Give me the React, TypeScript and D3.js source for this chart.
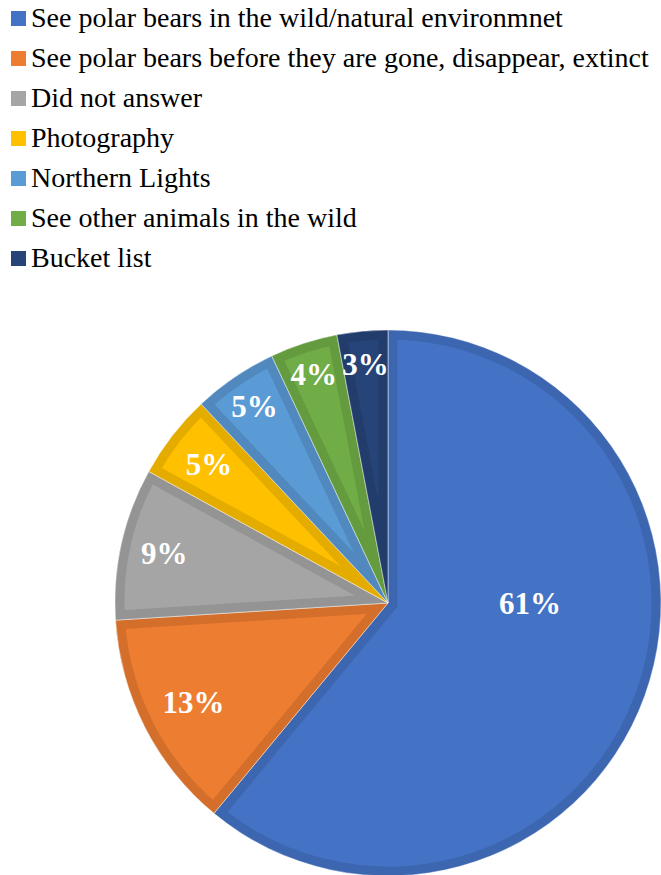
import React, { useEffect } from "react";
import * as d3 from "d3";

const categories = [
  "See polar bears in the wild/natural environmnet",
  "See polar bears before they are gone, disappear, extinct",
  "Did not answer",
  "Photography",
  "Northern Lights",
  "See other animals in the wild",
  "Bucket list",
];
const shares = [61, 13, 9, 5, 5, 4, 3];
const fills = ["#4472C4", "#ED7D31", "#A5A5A5", "#FFC000", "#5B9BD5", "#70AD47", "#264478"];
const borders = ["#3D66B0", "#D46F2B", "#949494", "#E5AC00", "#5189BF", "#649B3F", "#223D6B"];

const W = 661;
const H = 875;
const cx = 388;
const cy = 603;
const R = 273;
const SERIF = "Liberation Serif";
// radial position of each percentage label, as a fraction of the radius
const labelFrac = [0.52, 0.8, 0.84, 0.83, 0.87, 0.88, 0.88];

export default function App() {
  useEffect(() => {
    document.body.style.margin = "0";
  }, []);

  const pie = d3
    .pie<number>()
    .sort(null)
    .value((d) => d)
    .startAngle(0)
    .endAngle(2 * Math.PI);
  const arcs = pie(shares);
  const arc = d3.arc<d3.PieArcDatum<number>>().innerRadius(0).outerRadius(R);

  return (
    <svg width={W} height={H} style={{ display: "block" }}>
      <g>
        {categories.map((c, i) => {
          const yc = 18.5 + i * 40;
          return (
            <g key={c}>
              <rect x={11} y={yc - 7.5} width={15} height={15} fill={fills[i]} />
              <text x={31} y={yc + 8.5} fontFamily={SERIF} fontSize={28} fill="#000">
                {c}
              </text>
            </g>
          );
        })}
      </g>
      <defs>
        {arcs.map((a, i) => (
          <clipPath key={i} id={`slice-clip-${i}`}>
            <path d={arc(a) || ""} />
          </clipPath>
        ))}
      </defs>
      <g transform={`translate(${cx},${cy})`}>
        {arcs.map((a, i) => (
          <g key={i}>
            <path
              d={arc(a) || ""}
              fill={fills[i]}
              stroke={borders[i]}
              strokeWidth={19}
              strokeLinejoin="miter"
              clipPath={`url(#slice-clip-${i})`}
            />
            <path d={arc(a) || ""} fill="none" stroke="#ffffff" strokeOpacity={0.6} strokeWidth={0.8} />
          </g>
        ))}
        {arcs.map((a, i) => {
          const mid = i === 0 ? Math.PI / 2 : (a.startAngle + a.endAngle) / 2;
          const r = R * labelFrac[i];
          const x = Math.sin(mid) * r;
          const y = -Math.cos(mid) * r;
          return (
            <text
              key={i}
              x={x}
              y={y}
              dy="0.35em"
              textAnchor="middle"
              fill="#ffffff"
              fontFamily={SERIF}
              fontSize={31}
              fontWeight="bold"
            >
              {`${shares[i]}%`}
            </text>
          );
        })}
      </g>
    </svg>
  );
}
